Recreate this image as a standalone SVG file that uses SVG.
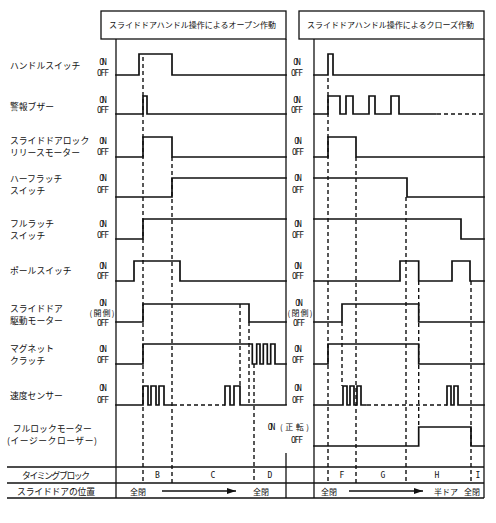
<svg xmlns="http://www.w3.org/2000/svg" width="496" height="523" viewBox="0 0 496 523">
<defs>
<style>
.f{fill:none;stroke:#111;stroke-width:1.3}
.w{fill:none;stroke:#111;stroke-width:1.7;stroke-linejoin:miter;stroke-linecap:square}
.d{fill:none;stroke:#111;stroke-width:1.4;stroke-dasharray:4 3}
.hb{fill:none;stroke:#111;stroke-width:1.7}
.t{font-family:"Noto Sans CJK JP",sans-serif;font-size:8.8px;fill:#111}
.tt{font-family:"Noto Sans CJK JP",sans-serif;font-size:8px;fill:#111}
.o{font-family:"DejaVu Sans Mono",monospace;font-size:8px;fill:#111;text-anchor:middle}
.m{font-family:"DejaVu Sans Mono",monospace;font-size:8px;fill:#111;text-anchor:middle}
</style>
<marker id="ah" markerWidth="10" markerHeight="8" refX="9" refY="4" orient="auto" markerUnits="userSpaceOnUse">
<path d="M0,1 L9,4 L0,7 Z" fill="#111"/>
</marker>
</defs>
<rect width="496" height="523" fill="#fff"/>

<g id="frame">
<rect class="f" x="101" y="11" width="185" height="28"/>
<rect class="f" x="299" y="11" width="185" height="28"/>
<line class="f" x1="116" y1="39" x2="116" y2="498"/>
<line class="f" x1="286" y1="39" x2="286" y2="405"/>
<line class="f" x1="286" y1="453" x2="286" y2="498"/>
<line class="f" x1="314" y1="39" x2="314" y2="498"/>
<line class="f" x1="484" y1="39" x2="484" y2="498"/>
<line class="hb" x1="7" y1="467" x2="484" y2="467"/>
<line class="hb" x1="7" y1="483" x2="484" y2="483"/>
<line class="hb" x1="7" y1="498" x2="484" y2="498"/>
<text class="tt" x="109" y="28">スライドドアハンドル操作によるオープン作動</text>
<text class="tt" x="307" y="28">スライドドアハンドル操作によるクローズ作動</text>
</g>

<g id="labels">
<text class="t" x="10" y="68.5">ハンドルスイッチ</text>
<text class="t" x="10" y="110">警報ブザー</text>
<text class="t" x="10" y="144">スライドドアロック</text>
<text class="t" x="10" y="156">リリースモーター</text>
<text class="t" x="10" y="181.7">ハーフラッチ</text>
<text class="t" x="10" y="193.7">スイッチ</text>
<text class="t" x="10" y="227">フルラッチ</text>
<text class="t" x="10" y="239">スイッチ</text>
<text class="t" x="10" y="274">ポールスイッチ</text>
<text class="t" x="10" y="311.5">スライドドア</text>
<text class="t" x="10" y="323.5">駆動モーター</text>
<text class="t" x="10" y="352">マグネット</text>
<text class="t" x="10" y="364">クラッチ</text>
<text class="t" x="10" y="398.5">速度センサー</text>
<text class="t" x="12.7" y="431.5">フルロックモーター</text>
<text class="t" x="7" y="443.5" textLength="90">(イージークローザー)</text>
<text class="t" x="56" y="478.5" text-anchor="middle" textLength="68">タイミングブロック</text>
<text class="t" x="56" y="494.5" text-anchor="middle" textLength="78">スライドドアの位置</text>
</g>

<g id="onoff">
<text class="o" x="103" y="65" textLength="7.5">ON</text><text class="o" x="103" y="75.5" textLength="12">OFF</text>
<text class="o" x="103" y="103" textLength="7.5">ON</text><text class="o" x="103" y="113" textLength="12">OFF</text>
<text class="o" x="103" y="144" textLength="7.5">ON</text><text class="o" x="103" y="154.5" textLength="12">OFF</text>
<text class="o" x="103" y="181" textLength="7.5">ON</text><text class="o" x="103" y="193" textLength="12">OFF</text>
<text class="o" x="103" y="227" textLength="7.5">ON</text><text class="o" x="103" y="238" textLength="12">OFF</text>
<text class="o" x="103" y="268.5" textLength="7.5">ON</text><text class="o" x="103" y="279" textLength="12">OFF</text>
<text class="o" x="103" y="306" textLength="7.5">ON</text><text class="tt" x="102" y="316" text-anchor="middle" textLength="25">(開側)</text><text class="o" x="103" y="325.5" textLength="12">OFF</text>
<text class="o" x="103" y="351.7" textLength="7.5">ON</text><text class="o" x="103" y="362.7" textLength="12">OFF</text>
<text class="o" x="103" y="391" textLength="7.5">ON</text><text class="o" x="103" y="402.7" textLength="12">OFF</text>

<text class="o" x="297" y="65" textLength="7.5">ON</text><text class="o" x="297" y="75.5" textLength="12">OFF</text>
<text class="o" x="297" y="103" textLength="7.5">ON</text><text class="o" x="297" y="113" textLength="12">OFF</text>
<text class="o" x="298" y="144" textLength="7.5">ON</text><text class="o" x="298" y="154.5" textLength="12">OFF</text>
<text class="o" x="298" y="181" textLength="7.5">ON</text><text class="o" x="298" y="193" textLength="12">OFF</text>
<text class="o" x="298" y="227" textLength="7.5">ON</text><text class="o" x="298" y="238" textLength="12">OFF</text>
<text class="o" x="298" y="268.5" textLength="7.5">ON</text><text class="o" x="298" y="279" textLength="12">OFF</text>
<text class="o" x="299" y="306" textLength="7.5">ON</text><text class="tt" x="300" y="316" text-anchor="middle" textLength="25">(閉側)</text><text class="o" x="299" y="325.5" textLength="12">OFF</text>
<text class="o" x="298" y="351.7" textLength="7.5">ON</text><text class="o" x="298" y="362.7" textLength="12">OFF</text>
<text class="o" x="298" y="391" textLength="7.5">ON</text><text class="o" x="298" y="402.7" textLength="12">OFF</text>
<text class="o" x="271.5" y="430" textLength="7.5">ON</text><text class="tt" x="280" y="430" textLength="29">(正転)</text>
<text class="o" x="297" y="442.5" textLength="12">OFF</text>
</g>

<g id="connectors">
<line class="d" x1="143" y1="57" x2="143" y2="483"/>
<line class="d" x1="172" y1="157" x2="172" y2="483"/>
<line class="d" x1="240" y1="304" x2="240" y2="386"/>
<line class="d" x1="249" y1="322" x2="249" y2="405"/>
<line class="d" x1="254" y1="364" x2="254" y2="483"/>
<line class="d" x1="328" y1="78" x2="328" y2="483"/>
<line class="d" x1="356" y1="157" x2="356" y2="483"/>
<line class="d" x1="342" y1="322" x2="342" y2="386"/>
<line class="d" x1="406" y1="197" x2="406" y2="483"/>
<line class="d" x1="418.7" y1="281" x2="418.7" y2="427"/>
<line class="d" x1="471" y1="281" x2="471" y2="483"/>
<line class="d" x1="173" y1="405" x2="225" y2="405"/>
<line class="d" x1="367" y1="405" x2="447" y2="405"/>
<line class="d" x1="437" y1="114" x2="484" y2="114"/>
<line class="f" x1="162" y1="491" x2="236" y2="491" marker-end="url(#ah)"/>
<line class="f" x1="349" y1="491" x2="423" y2="491" marker-end="url(#ah)"/>
</g>

<g id="waves-left">
<path class="w" d="M116,75 H139 V54 H172 V75 H286"/>
<path class="w" d="M116,114 H143 V96 H147 V114 H286"/>
<path class="w" d="M116,157 H143 V137 H172 V157 H286"/>
<path class="w" d="M116,197 H172 V178 H286"/>
<path class="w" d="M116,239 H143 V219 H286"/>
<path class="w" d="M116,281 H134 V261 H180 V281 H286"/>
<path class="w" d="M116,322 H143 V304 H249 V322 H286"/>
<path class="w" d="M116,364 H143 V344 H252.3 V364 H256.7 V344 H260 V364 H263.3 V344 H267.3 V364 H270.7 V344 H275 V364 H286"/>
<path class="w" d="M116,405 H143 V386 H148 V405 H151 V386 H156 V405 H159 V386 H164 V405 H172"/>
<path class="w" d="M225,405 V386 H230 V405 H234 V386 H240 V405 H286"/>
</g>

<g id="waves-right">
<path class="w" d="M314,75 H328 V54 H333 V75 H484"/>
<path class="w" d="M314,114 H328 V96 H340 V114 H346 V96 H353 V114 H369 V96 H375 V114 H391 V96 H399 V114 H436"/>
<path class="w" d="M314,157 H328 V137 H356 V157 H484"/>
<path class="w" d="M314,178 H407 V197 H484"/>
<path class="w" d="M314,219 H461 V239 H484"/>
<path class="w" d="M314,281 H400 V261 H418.7 V281 H452 V261 H470 V281 H484"/>
<path class="w" d="M314,322 H342 V304 H418.7 V322 H484"/>
<path class="w" d="M314,364 H328 V344 H418.7 V364 H484"/>
<path class="w" d="M314,405 H343 V386 H347 V405 H350 V386 H354 V405 H357 V386 H361 V405 H366"/>
<path class="w" d="M447,405 V386 H451 V405 H454 V386 H458 V405 H484"/>
<path class="w" d="M314,446 H418.7 V427 H471 V446 H484"/>
</g>

<g id="timing">
<text class="m" x="157.5" y="478">B</text>
<text class="m" x="213" y="478">C</text>
<text class="m" x="270" y="478">D</text>
<text class="m" x="342" y="478">F</text>
<text class="m" x="383" y="478">G</text>
<text class="m" x="437" y="478">H</text>
<text class="m" x="478" y="478">I</text>
<text class="tt" x="130" y="494.5">全閉</text>
<text class="tt" x="253" y="494.5">全閉</text>
<text class="tt" x="321" y="494.5">全閉</text>
<text class="tt" x="434" y="494.5">半ドア</text>
<text class="tt" x="464" y="494.5">全閉</text>
</g>
</svg>
